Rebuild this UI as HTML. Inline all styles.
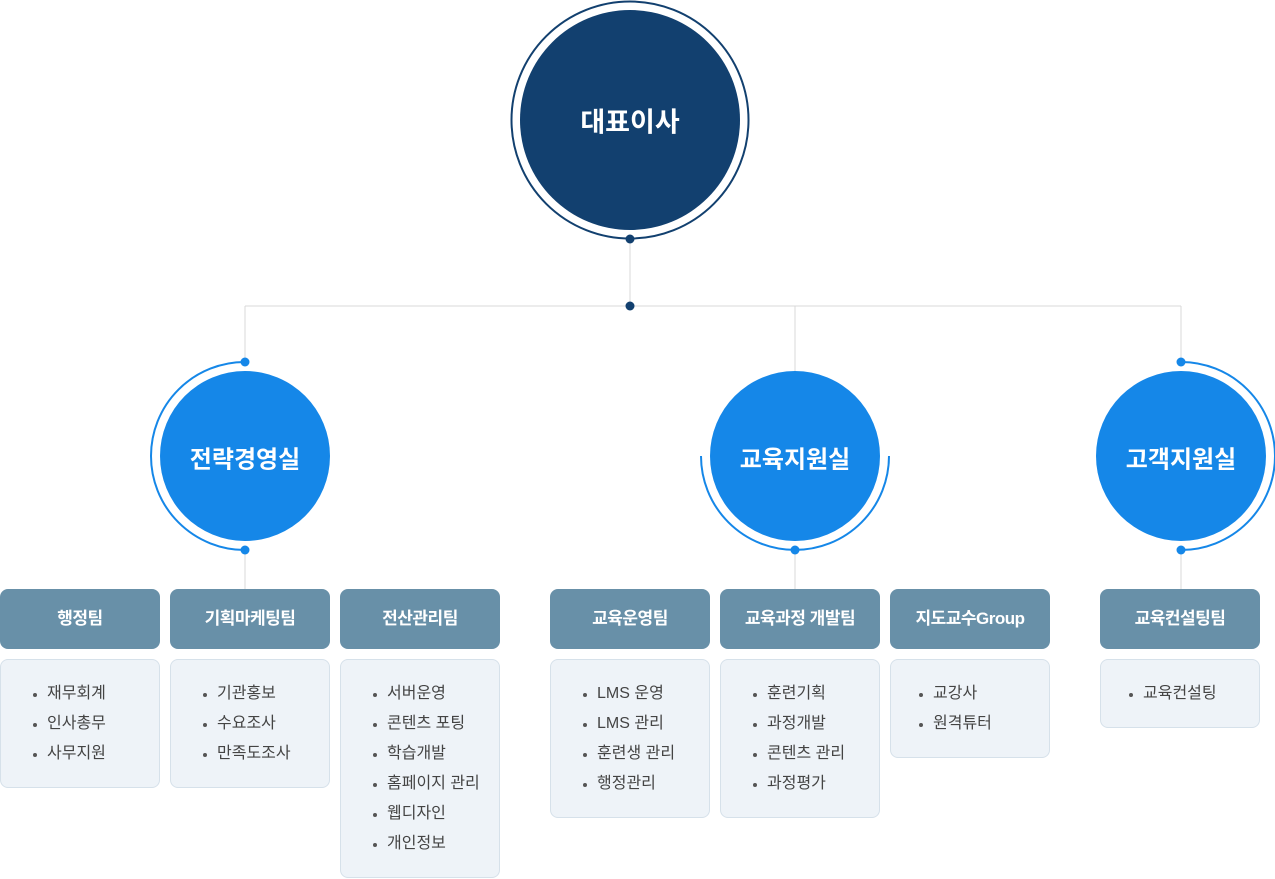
<!DOCTYPE html>
<html><head><meta charset="utf-8"><style>
body{margin:0;width:1275px;height:879px;position:relative;background:#fff;font-family:"Liberation Sans","Noto Sans CJK KR",sans-serif;overflow:hidden}
svg{position:absolute;left:0;top:0}
.c{position:absolute;color:#fff;font-weight:bold;text-align:center;transform:translate(-50%,-50%);white-space:nowrap}
.h{position:absolute;top:589px;width:160px;height:60px;background:#6890a8;border-radius:8px;color:#fff;font-weight:bold;font-size:17px;line-height:60px;text-align:center;letter-spacing:-0.5px}
.b{position:absolute;top:659px;width:158px;background:#eef3f8;border:1px solid #d6e1ea;border-radius:8px;box-sizing:content-box}
.b ul{margin:0;padding:19px 0 18px 46px;list-style:none;color:#444;font-size:16px}
.b li{line-height:30px;position:relative}
.b li:before{content:"";position:absolute;left:-14px;top:14px;width:4px;height:4px;border-radius:50%;background:#555}
</style></head><body>
<svg width="1275" height="879">
<g stroke="#d8d8d8" stroke-width="1" fill="none">
<line x1="630" y1="239" x2="630" y2="306"/>
<line x1="245" y1="306" x2="1181" y2="306"/>
<line x1="245" y1="306" x2="245" y2="362"/>
<line x1="795" y1="306" x2="795" y2="372"/>
<line x1="1181" y1="306" x2="1181" y2="362"/>
<line x1="245" y1="550" x2="245" y2="589"/>
<line x1="795" y1="550" x2="795" y2="589"/>
<line x1="1181" y1="550" x2="1181" y2="589"/>
</g>
<circle cx="630" cy="120" r="118.5" fill="none" stroke="#12406f" stroke-width="2"/>
<circle cx="630" cy="120" r="110" fill="#12406f"/>
<circle cx="630" cy="239" r="4.5" fill="#12406f"/>
<circle cx="630" cy="306" r="4.5" fill="#12406f"/>
<g fill="#1587e8">
<circle cx="245" cy="456" r="85"/>
<circle cx="795" cy="456" r="85"/>
<circle cx="1181" cy="456" r="85"/>
<circle cx="245" cy="362" r="4.5"/><circle cx="245" cy="550" r="4.5"/>
<circle cx="795" cy="550" r="4.5"/>
<circle cx="1181" cy="362" r="4.5"/><circle cx="1181" cy="550" r="4.5"/>
</g>
<g fill="none" stroke="#1587e8" stroke-width="2">
<path d="M245 362 A94 94 0 0 0 245 550"/>
<path d="M701 456 A94 94 0 0 0 889 456"/>
<path d="M1181 362 A94 94 0 0 1 1181 550"/>
</g>
</svg>
<div class="c" style="left:630px;top:120px;font-size:27px">대표이사</div>
<div class="c" style="left:245px;top:457px;font-size:24px">전략경영실</div>
<div class="c" style="left:795px;top:457px;font-size:24px">교육지원실</div>
<div class="c" style="left:1181px;top:457px;font-size:24px">고객지원실</div>

<div class="h" style="left:0">행정팀</div>
<div class="h" style="left:170px">기획마케팅팀</div>
<div class="h" style="left:340px">전산관리팀</div>
<div class="h" style="left:550px">교육운영팀</div>
<div class="h" style="left:720px">교육과정 개발팀</div>
<div class="h" style="left:890px">지도교수Group</div>
<div class="h" style="left:1100px">교육컨설팅팀</div>

<div class="b" style="left:0"><ul><li>재무회계</li><li>인사총무</li><li>사무지원</li></ul></div>
<div class="b" style="left:170px"><ul><li>기관홍보</li><li>수요조사</li><li>만족도조사</li></ul></div>
<div class="b" style="left:340px"><ul><li>서버운영</li><li>콘텐츠 포팅</li><li>학습개발</li><li>홈페이지 관리</li><li>웹디자인</li><li>개인정보</li></ul></div>
<div class="b" style="left:550px"><ul><li>LMS 운영</li><li>LMS 관리</li><li>훈련생 관리</li><li>행정관리</li></ul></div>
<div class="b" style="left:720px"><ul><li>훈련기획</li><li>과정개발</li><li>콘텐츠 관리</li><li>과정평가</li></ul></div>
<div class="b" style="left:890px"><ul style="padding-left:42px"><li>교강사</li><li>원격튜터</li></ul></div>
<div class="b" style="left:1100px"><ul style="padding-left:42px"><li>교육컨설팅</li></ul></div>
</body></html>
